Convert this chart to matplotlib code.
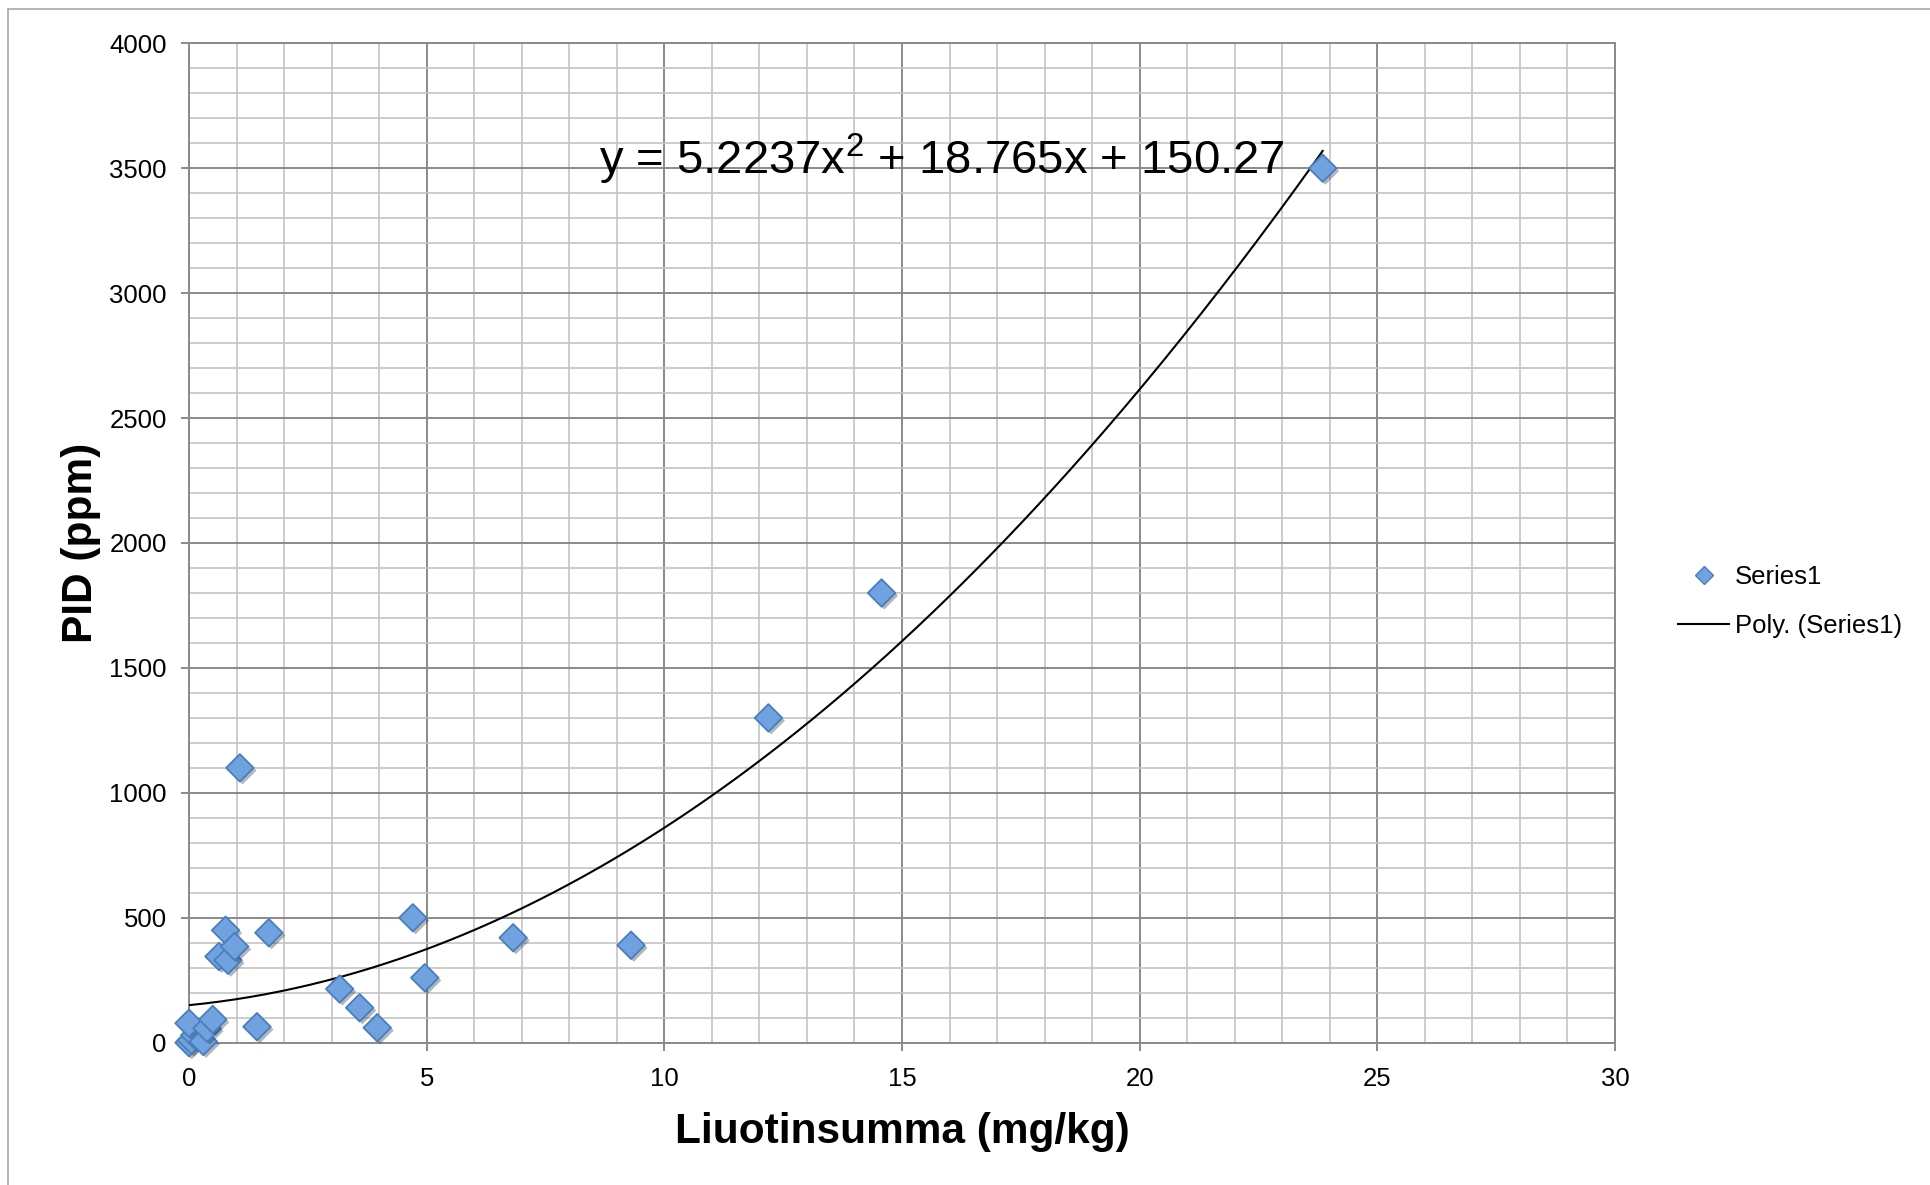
import numpy as np
import matplotlib
matplotlib.use("Agg")
import matplotlib.pyplot as plt
from matplotlib import patheffects as pe
from matplotlib.lines import Line2D

plt.rcParams['font.family'] = ['Liberation Sans', 'DejaVu Sans']

# data
liuotin = [0.0, 0.05, 0.12, 0.0, 0.30, 0.38, 0.50, 0.63, 0.77, 0.82, 0.96, 1.07,
           1.43, 1.68, 3.17, 3.59, 3.96, 4.71, 4.96, 6.82, 9.30, 12.19, 14.57, 23.85]
pid = [0, 10, 30, 78, 5, 58, 93, 345, 450, 330, 385, 1100,
       64, 440, 215, 140, 60, 500, 260, 420, 390, 1300, 1800, 3500]
fit_coef = [5.2237, 18.765, 150.27]
x_ticks = [0, 5, 10, 15, 20, 25, 30]
y_ticks = [0, 500, 1000, 1500, 2000, 2500, 3000, 3500, 4000]

major_c = '#8a8a8a'
minor_c = '#c4c4c4'

fig = plt.figure(figsize=(19.30, 11.85), dpi=100)
ax = fig.add_axes([189 / 1930, 1 - 1042.7 / 1185, (1615 - 189) / 1930, (1042.7 - 43.3) / 1185])

ax.set_xlim(0, 30)
ax.set_ylim(0, 4000)
ax.set_xticks(x_ticks)
ax.set_yticks(y_ticks)
ax.set_xticks(np.arange(0, 31, 1), minor=True)
ax.set_yticks(np.arange(0, 4001, 100), minor=True)
ax.grid(True, which='minor', color=minor_c, lw=1.2, zorder=0)
ax.grid(True, which='major', color=major_c, lw=1.4, zorder=0.5)
ax.set_axisbelow(True)
for s in ax.spines.values():
    s.set_color(major_c)
    s.set_linewidth(1.4)
ax.tick_params(which='major', length=6, width=1.4, color=major_c, labelsize=18.5, pad=10)
ax.tick_params(axis='x', which='major', pad=11.5)
ax.tick_params(which='minor', length=0)

# trendline from the displayed coefficients
xf = np.linspace(0, max(liuotin), 300)
ax.plot(xf, np.polyval(fit_coef, xf), color='black', lw=1.5, zorder=3,
        label='Poly. (Series1)')

ax.scatter(liuotin, pid, marker='D', s=14 ** 2, facecolor='#6fa2de', edgecolor='#4a7ebb',
           linewidth=1.3, zorder=4, clip_on=False, label='Series1',
           path_effects=[pe.withSimplePatchShadow(offset=(2, -2), alpha=0.35)])

ax.set_xlabel('Liuotinsumma (mg/kg)', fontsize=30.5, fontweight='bold', labelpad=15)
ax.set_ylabel('PID (ppm)', fontsize=30.5, fontweight='bold', labelpad=6)

fig.text(599 / 1930, 1 - 159 / 1185, 'y = 5.2237x$^{2}$ + 18.765x + 150.27',
         fontsize=34, ha='left', va='center', math_fontfamily='custom')
plt.rcParams['mathtext.rm'] = 'Liberation Sans'

h_pts = Line2D([], [], ls='none', marker='D', ms=9, mfc='#6fa2de', mec='#4a7ebb', mew=1)
h_fit = Line2D([], [], color='black', lw=1.5)
fig.legend([h_pts, h_fit], ['Series1', 'Poly. (Series1)'], loc='center left',
           bbox_to_anchor=(1678 / 1930, 1 - 601.5 / 1185), frameon=False,
           fontsize=18.5, handlelength=2.0, handletextpad=0.2, borderpad=0,
           borderaxespad=0, labelspacing=1.0)

# outer chart border
fig.add_artist(Line2D([8.3 / 1930, 8.3 / 1930], [0, 1 - 9 / 1185], color='#a8a8a8', lw=1.2))
fig.add_artist(Line2D([8.3 / 1930, 1], [1 - 9 / 1185, 1 - 9 / 1185], color='#a8a8a8', lw=1.2))

fig.savefig('out.png', dpi=100)
